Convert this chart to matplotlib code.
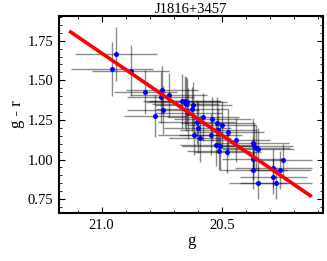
import numpy as np
import matplotlib
matplotlib.use("Agg")
import matplotlib.pyplot as plt
from matplotlib.ticker import MultipleLocator, FormatStrFormatter

plt.rcParams['font.family'] = ['Liberation Serif', 'DejaVu Serif']

g_mag = [20.940, 20.958, 20.879, 20.818, 20.750, 20.754, 20.721, 20.778, 20.746,
         20.667, 20.653, 20.646, 20.650, 20.618, 20.625, 20.639, 20.579, 20.604,
         20.600, 20.614, 20.590, 20.540, 20.521, 20.499, 20.515, 20.546, 20.473,
         20.440, 20.525, 20.507, 20.513, 20.477, 20.368, 20.364, 20.357, 20.347,
         20.368, 20.368, 20.349, 20.285, 20.285, 20.275, 20.257, 20.246]
g_r = [1.664, 1.569, 1.561, 1.428, 1.439, 1.393, 1.407, 1.275, 1.314,
       1.369, 1.367, 1.365, 1.348, 1.342, 1.317, 1.292, 1.270, 1.237,
       1.201, 1.157, 1.134, 1.256, 1.232, 1.220, 1.186, 1.157, 1.172,
       1.123, 1.092, 1.085, 1.056, 1.046, 1.102, 1.087, 1.075, 1.066,
       1.003, 0.934, 0.854, 0.944, 0.891, 0.854, 0.932, 0.999]
g_err = [0.17, 0.17, 0.16, 0.13, 0.15, 0.14, 0.16, 0.13, 0.15,
         0.16, 0.15, 0.17, 0.14, 0.16, 0.15, 0.14, 0.15, 0.16,
         0.14, 0.15, 0.13, 0.16, 0.15, 0.14, 0.16, 0.13, 0.15,
         0.14, 0.15, 0.16, 0.13, 0.14, 0.15, 0.16, 0.14, 0.15,
         0.13, 0.14, 0.12, 0.16, 0.14, 0.15, 0.13, 0.12]
gr_err = [0.17, 0.17, 0.16, 0.14, 0.15, 0.16, 0.14, 0.13, 0.15,
          0.17, 0.16, 0.15, 0.17, 0.15, 0.14, 0.16, 0.15, 0.14,
          0.16, 0.13, 0.15, 0.14, 0.16, 0.15, 0.14, 0.13, 0.15,
          0.14, 0.13, 0.15, 0.12, 0.13, 0.16, 0.15, 0.14, 0.13,
          0.13, 0.12, 0.10, 0.12, 0.11, 0.10, 0.12, 0.10]

# linear fit g - r = slope * (g - g0) + c0
fit_slope = 1.0347
fit_g0 = 21.135
fit_c0 = 1.811
fit_range = [21.135, 20.125]

fig = plt.figure(figsize=(3.27, 2.61), dpi=100)
ax = fig.add_axes([0.180, 0.184, 0.808, 0.755])

ax.errorbar(g_mag, g_r, xerr=g_err, yerr=gr_err, fmt='none',
            ecolor='black', alpha=0.45, elinewidth=1.0, capsize=0, zorder=1)
ax.plot(g_mag, g_r, 'o', color='#0000ff', markersize=3.6, markeredgewidth=0, zorder=2)

gx = np.array(fit_range)
ax.plot(gx, fit_slope * (gx - fit_g0) + fit_c0, color='#ff0000', lw=2.6,
        solid_capstyle='butt', zorder=3)

ax.set_xlim(21.178, 20.078)
ax.set_ylim(0.663, 1.906)

ax.xaxis.set_major_locator(MultipleLocator(0.5))
ax.xaxis.set_minor_locator(MultipleLocator(0.1))
ax.xaxis.set_major_formatter(FormatStrFormatter('%.1f'))
ax.yaxis.set_major_locator(MultipleLocator(0.25))
ax.yaxis.set_minor_locator(MultipleLocator(0.05))
ax.yaxis.set_major_formatter(FormatStrFormatter('%.2f'))

ax.tick_params(which='both', direction='in', top=True, right=True,
               labelsize=10.5, pad=4)
ax.tick_params(which='major', length=4, width=0.8)
ax.tick_params(which='minor', length=2, width=0.6)
for s in ax.spines.values():
    s.set_linewidth(1.5)

ax.set_xlabel('g', fontsize=12, labelpad=1)
ax.set_ylabel('g - r', fontsize=12, labelpad=2)
ax.set_title('J1816+3457', fontsize=10.5, pad=2)

fig.savefig('out.png', dpi=100)
